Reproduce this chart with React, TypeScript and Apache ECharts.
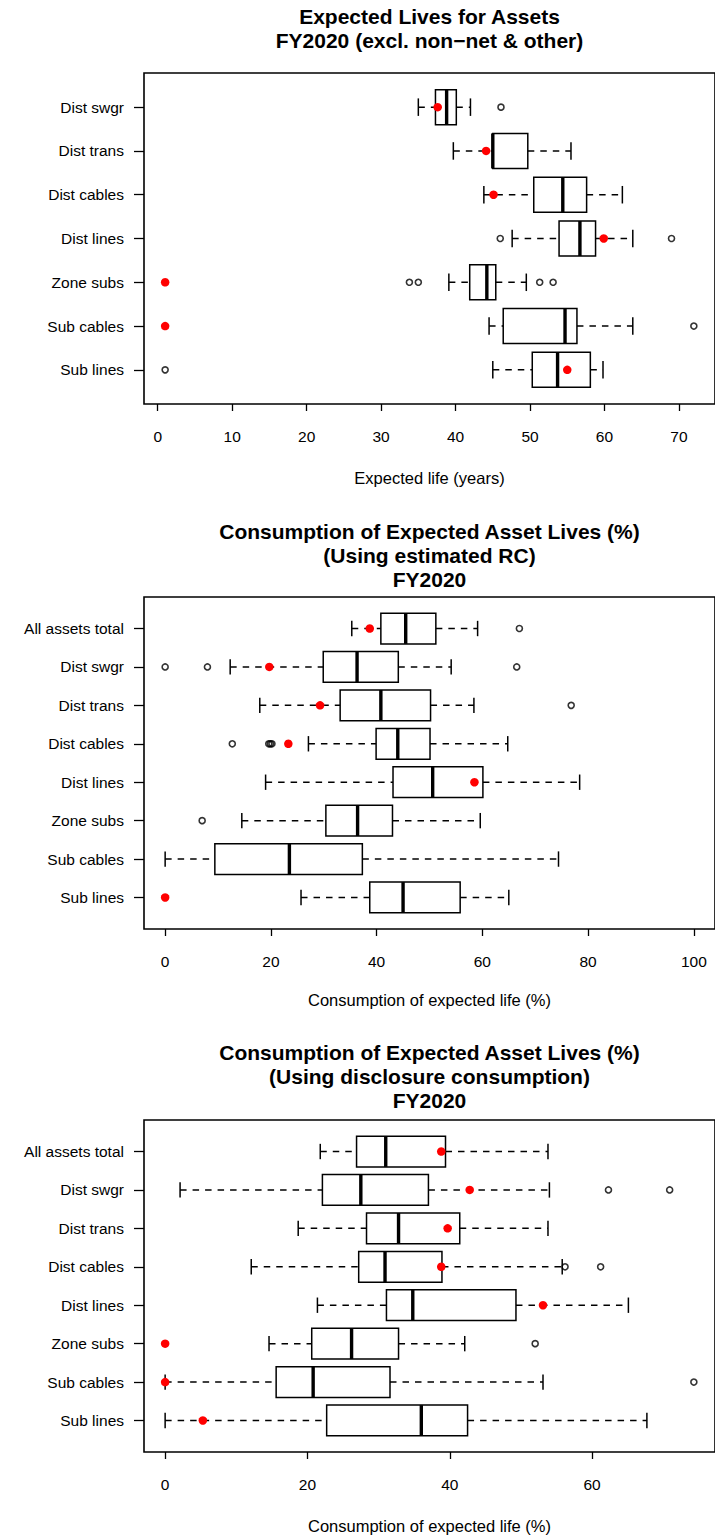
import React, { useEffect, useRef } from "react";
import * as echarts from "echarts";

const FONT = '"Liberation Sans", Arial, Helvetica, sans-serif';

// ---- Panel 1: expected lives (years), rows listed top to bottom ----
const lifeCategories = ["Dist swgr", "Dist trans", "Dist cables", "Dist lines", "Zone subs", "Sub cables", "Sub lines"];
const lifeLow = [35.0, 39.7, 43.8, 47.6, 39.1, 44.5, 45.0];
const lifeQ1 = [37.3, 45.0, 50.5, 53.9, 41.9, 46.4, 50.3];
const lifeMedian = [38.8, 45.0, 54.4, 56.7, 44.2, 54.7, 53.7];
const lifeQ3 = [40.1, 49.7, 57.6, 58.8, 45.4, 56.3, 58.1];
const lifeHigh = [42.0, 55.5, 62.4, 63.8, 49.5, 63.8, 59.8];
const lifeOutliers = [[46.1], [], [], [46.0, 69.0], [33.8, 35.0, 51.3, 53.1], [72.0], [1.0]];
const lifeMarks = [37.6, 44.1, 45.1, 59.9, 1.0, 1.0, 55.0];
const lifeTicks = [0, 10, 20, 30, 40, 50, 60, 70];

// ---- Panel 2: consumption of expected life, estimated RC (%) ----
const rcCategories = ["All assets total", "Dist swgr", "Dist trans", "Dist cables", "Dist lines", "Zone subs", "Sub cables", "Sub lines"];
const rcLow = [35.3, 12.3, 17.9, 27.1, 19.0, 14.5, 0.0, 25.7];
const rcQ1 = [40.8, 29.9, 33.1, 39.9, 43.1, 30.4, 9.4, 38.7];
const rcMedian = [45.5, 36.3, 40.8, 44.0, 50.6, 36.4, 23.5, 45.0];
const rcQ3 = [51.2, 44.1, 50.2, 50.1, 60.1, 43.0, 37.3, 55.8];
const rcHigh = [59.1, 54.1, 58.4, 64.8, 78.4, 59.6, 74.4, 65.0];
const rcOutliers = [[67.0], [0.0, 8.0, 66.5], [76.8], [12.7, 19.6, 19.9, 20.2], [], [7.0], [], []];
const rcMarks = [38.7, 19.7, 29.3, 23.3, 58.5, null, null, 0.0];
const rcTicks = [0, 20, 40, 60, 80, 100];

// ---- Panel 3: consumption of expected life, disclosure consumption (%) ----
const discCategories = ["All assets total", "Dist swgr", "Dist trans", "Dist cables", "Dist lines", "Zone subs", "Sub cables", "Sub lines"];
const discLow = [21.8, 2.1, 18.7, 12.1, 21.4, 14.6, 0.0, 0.0];
const discQ1 = [26.9, 22.1, 28.3, 27.2, 31.1, 20.6, 15.6, 22.7];
const discMedian = [31.0, 27.5, 32.8, 30.9, 34.8, 26.2, 20.8, 36.0];
const discQ3 = [39.4, 37.0, 41.4, 38.9, 49.3, 32.8, 31.6, 42.5];
const discHigh = [53.8, 54.0, 53.8, 55.8, 65.1, 42.1, 53.1, 67.7];
const discOutliers = [[], [62.3, 70.9], [], [56.2, 61.2], [], [52.0], [74.3], []];
const discMarks = [38.8, 42.8, 39.7, 38.8, 53.1, 0.0, 0.0, 5.3];
const discTicks = [0, 20, 40, 60];

type Panel = {
  title: string;
  axisTitle: string;
  categories: string[];
  low: number[];
  q1: number[];
  median: number[];
  q3: number[];
  high: number[];
  outliers: number[][];
  marks: (number | null)[];
  ticks: number[];
  xMin: number;
  xMax: number;
  top: number;
  height: number;
  titleTop: number;
  axisTitleY: number;
};

const panels: Panel[] = [
  {
    title: "Expected Lives for Assets\nFY2020 (excl. non\u2212net & other)",
    axisTitle: "Expected life (years)",
    categories: lifeCategories, low: lifeLow, q1: lifeQ1, median: lifeMedian, q3: lifeQ3, high: lifeHigh,
    outliers: lifeOutliers, marks: lifeMarks, ticks: lifeTicks,
    xMin: -1.84, xMax: 74.84, top: 73, height: 331, titleTop: 4.5, axisTitleY: 478,
  },
  {
    title: "Consumption of Expected Asset Lives (%)\n(Using estimated RC)\nFY2020",
    axisTitle: "Consumption of expected life (%)",
    categories: rcCategories, low: rcLow, q1: rcQ1, median: rcMedian, q3: rcQ3, high: rcHigh,
    outliers: rcOutliers, marks: rcMarks, ticks: rcTicks,
    xMin: -4, xMax: 104, top: 597, height: 332, titleTop: 519.5, axisTitleY: 1000,
  },
  {
    title: "Consumption of Expected Asset Lives (%)\n(Using disclosure consumption)\nFY2020",
    axisTitle: "Consumption of expected life (%)",
    categories: discCategories, low: discLow, q1: discQ1, median: discMedian, q3: discQ3, high: discHigh,
    outliers: discOutliers, marks: discMarks, ticks: discTicks,
    xMin: -2.97, xMax: 77.27, top: 1120, height: 332, titleTop: 1040, axisTitleY: 1526,
  },
];

const PLOT_LEFT = 144;
const PLOT_WIDTH = 571;
const CENTER_X = PLOT_LEFT + PLOT_WIDTH / 2;

// Box, median, dashed whiskers and staples for one row of a horizontal boxplot.
function renderBox(params: any, api: any) {
  const pos = api.value(0);
  const low = api.coord([api.value(1), pos]);
  const q1 = api.coord([api.value(2), pos]);
  const med = api.coord([api.value(3), pos]);
  const q3 = api.coord([api.value(4), pos]);
  const high = api.coord([api.value(5), pos]);
  const h = Math.abs(api.size([0, 0.8])[1]);
  const cy = q1[1];
  const dashed = { stroke: "#000", lineWidth: 1.5, lineDash: [6.5, 6], fill: null };
  const solid = { stroke: "#000", lineWidth: 1.5, fill: null };
  return {
    type: "group",
    children: [
      { type: "line", shape: { x1: low[0], y1: cy, x2: q1[0], y2: cy }, style: dashed },
      { type: "line", shape: { x1: q3[0], y1: cy, x2: high[0], y2: cy }, style: dashed },
      { type: "line", shape: { x1: low[0], y1: cy - h / 4, x2: low[0], y2: cy + h / 4 }, style: solid },
      { type: "line", shape: { x1: high[0], y1: cy - h / 4, x2: high[0], y2: cy + h / 4 }, style: solid },
      {
        type: "rect",
        shape: { x: q1[0], y: cy - h / 2, width: q3[0] - q1[0], height: h },
        style: { fill: "#fff", stroke: "#000", lineWidth: 1.5 },
      },
      { type: "line", shape: { x1: med[0], y1: cy - h / 2, x2: med[0], y2: cy + h / 2 }, style: { stroke: "#000", lineWidth: 3.4 } },
    ],
  };
}

function buildOption() {
  const grid: any[] = [];
  const xAxis: any[] = [];
  const yAxis: any[] = [];
  const series: any[] = [];
  const graphic: any[] = [];

  panels.forEach((p, i) => {
    const n = p.categories.length;
    const positions = p.categories.map((_, k) => k + 1);
    grid.push({
      left: PLOT_LEFT,
      top: p.top,
      width: PLOT_WIDTH,
      height: p.height,
      show: true,
      borderColor: "#000",
      borderWidth: 1.6,
      backgroundColor: "transparent",
      containLabel: false,
    });
    xAxis.push({
      type: "value",
      gridIndex: i,
      min: p.xMin,
      max: p.xMax,
      splitLine: { show: false },
      axisLine: { show: false, onZero: false },
      axisTick: { show: true, customValues: p.ticks, length: 7, lineStyle: { color: "#000", width: 1.3 } },
      axisLabel: {
        customValues: p.ticks,
        color: "#000",
        fontSize: 15.5,
        fontFamily: FONT,
        margin: 24,
      },
    });
    yAxis.push({
      type: "value",
      gridIndex: i,
      inverse: true,
      min: 0.5 - 0.04 * n,
      max: n + 0.5 + 0.04 * n,
      splitLine: { show: false },
      axisLine: { show: false, onZero: false },
      axisTick: { show: true, customValues: positions, length: 10, lineStyle: { color: "#000", width: 1.3 } },
      axisLabel: {
        customValues: positions,
        formatter: (v: number) => p.categories[Math.round(v) - 1] ?? "",
        color: "#000",
        fontSize: 15.5,
        fontFamily: FONT,
        margin: 20,
      },
    });

    series.push({
      type: "custom",
      xAxisIndex: i,
      yAxisIndex: i,
      renderItem: renderBox,
      encode: { x: [1, 2, 3, 4, 5], y: 0 },
      data: p.categories.map((_, k) => [k + 1, p.low[k], p.q1[k], p.median[k], p.q3[k], p.high[k]]),
      silent: true,
      z: 2,
    });

    const outlierPoints: number[][] = [];
    p.outliers.forEach((vals, k) => vals.forEach((v) => outlierPoints.push([v, k + 1])));
    series.push({
      type: "scatter",
      xAxisIndex: i,
      yAxisIndex: i,
      data: outlierPoints,
      symbol: "circle",
      symbolSize: 6,
      itemStyle: { color: "rgba(255,255,255,0)", borderColor: "#000", borderWidth: 1.6 },
      silent: true,
      z: 3,
    });

    const markPoints: number[][] = [];
    p.marks.forEach((v, k) => {
      if (v !== null) markPoints.push([v, k + 1]);
    });
    series.push({
      type: "scatter",
      xAxisIndex: i,
      yAxisIndex: i,
      data: markPoints,
      symbol: "circle",
      symbolSize: 8.5,
      itemStyle: { color: "#ff0000", opacity: 1 },
      silent: true,
      z: 4,
    });

    graphic.push({
      type: "text",
      x: CENTER_X,
      y: p.titleTop,
      style: {
        text: p.title,
        fill: "#000",
        fontFamily: FONT,
        fontWeight: "bold",
        fontSize: 21,
        lineHeight: 24,
        align: "center",
        verticalAlign: "top",
        textAlign: "center",
        textVerticalAlign: "top",
      },
    });
    graphic.push({
      type: "text",
      x: CENTER_X,
      y: p.axisTitleY,
      style: {
        text: p.axisTitle,
        fill: "#000",
        fontFamily: FONT,
        fontSize: 16.5,
        align: "center",
        verticalAlign: "middle",
        textAlign: "center",
        textVerticalAlign: "middle",
      },
    });
  });

  return {
    animation: false,
    backgroundColor: "#fff",
    grid,
    xAxis,
    yAxis,
    series,
    graphic,
  };
}

export default function App() {
  const ref = useRef<HTMLDivElement>(null);
  useEffect(() => {
    if (!ref.current) return;
    const chart = echarts.init(ref.current, undefined, { renderer: "svg" });
    chart.setOption(buildOption() as any);
    return () => chart.dispose();
  }, []);
  return (
    <div
      ref={ref}
      style={{ position: "absolute", left: 0, top: 0, width: 715, height: 1535, background: "#fff" }}
    />
  );
}
